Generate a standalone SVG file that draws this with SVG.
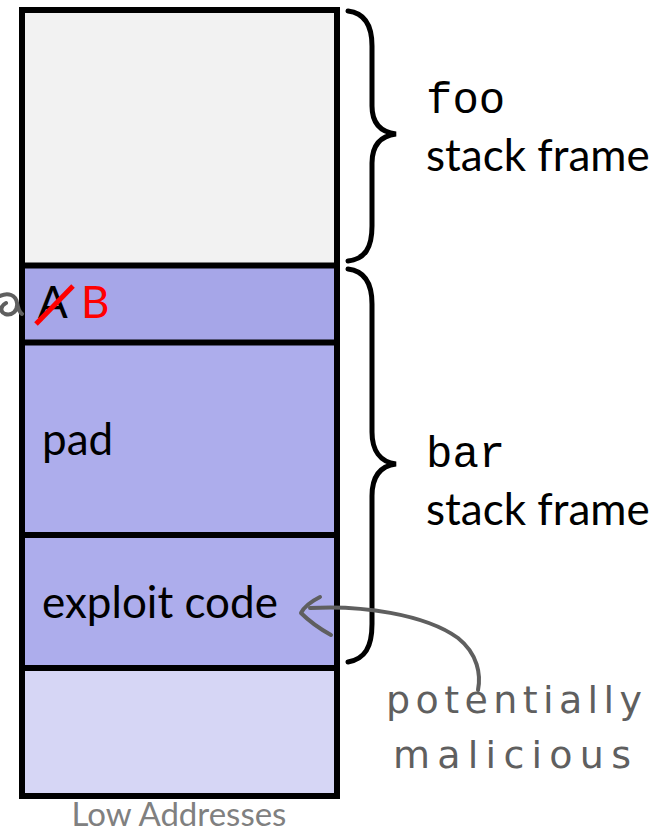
<svg xmlns="http://www.w3.org/2000/svg" width="662" height="833" viewBox="0 0 662 833">
  <style>
    .cell { stroke: none; }
    .rule { stroke: #000; stroke-width: 6; fill: none; }
    .brace { stroke: #000; stroke-width: 5; fill: none; stroke-linecap: round; }
    .lbl { font-family: Lato, "Liberation Sans", sans-serif; font-size: 44px; fill: #000; }
    .mono { font-family: "Liberation Mono", "DejaVu Sans Mono", monospace; font-size: 44px; fill: #000; }
    .ink { stroke: #5f5f5f; stroke-width: 4; fill: none; stroke-linecap: round; stroke-linejoin: round; }
    .hand { font-family: "DejaVu Sans", sans-serif; font-size: 38px; fill: #5f5f5f; }
  </style>

  <!-- stack cells -->
  <g id="foo-frame">
    <rect class="cell" x="22" y="10" width="315" height="255.5" fill="#f2f2f2"/>
  </g>
  <g id="return-addr">
    <rect class="cell" x="22" y="265.5" width="315" height="77" fill="#a6a6e8"/>
    <text class="lbl" x="38" y="318">A</text>
    <line x1="36" y1="324" x2="73" y2="286" stroke="#ff0000" stroke-width="5"/>
    <text class="lbl" x="81" y="318" style="fill:#ff0000">B</text>
  </g>
  <g id="pad">
    <rect class="cell" x="22" y="342.5" width="315" height="192.5" fill="#adadec"/>
    <text class="lbl" x="42" y="455">pad</text>
  </g>
  <g id="exploit">
    <rect class="cell" x="22" y="535" width="315" height="133" fill="#adadec"/>
    <text class="lbl" x="42" y="618">exploit code</text>
  </g>
  <g id="low-area">
    <rect class="cell" x="22" y="668" width="315" height="128" fill="#d6d6f5"/>
  </g>

  <!-- outline and dividers -->
  <g id="outline">
    <rect class="rule" x="22" y="10" width="315" height="786"/>
    <line class="rule" x1="22" y1="265.5" x2="337" y2="265.5"/>
    <line class="rule" x1="22" y1="342.5" x2="337" y2="342.5"/>
    <line class="rule" x1="22" y1="535" x2="337" y2="535"/>
    <line class="rule" x1="22" y1="668" x2="337" y2="668"/>
  </g>

  <!-- frame braces and labels -->
  <g id="foo-label">
    <path class="brace" d="M348,11 C365,13 372,26 372,46 L372,106 C372,123 380,132 396,134 C380,136 372,146 372,163 L372,226 C372,248 365,259 348,261"/>
    <text class="mono" x="426" y="113">foo</text>
    <text class="lbl" x="426" y="171">stack frame</text>
  </g>
  <g id="bar-label">
    <path class="brace" d="M348,269 C365,271 372,284 372,304 L372,432 C372,450 380,462 396,464 C380,466 372,477 372,496 L372,624 C372,647 365,659 348,662"/>
    <text class="mono" x="426" y="467">bar</text>
    <text class="lbl" x="426" y="525">stack frame</text>
  </g>

  <!-- hand-drawn annotation -->
  <g id="connectors">
    <path class="ink" d="M310,608 C360,605 425,614 458,638 C478,654 481,675 478,690"/>
    <path class="ink" d="M320,597 C312,601 304,607 301,613 C310,622 322,630 331,635"/>
    <path class="ink" stroke-width="6" d="M0,296 C8,292 16,295 17,303 C18,311 12,316 5,314 C0,312 0,306 6,303 M17,303 C18,308 19,312 22,314"/>
  </g>
  <g id="note">
    <text class="hand" x="386" y="713" textLength="256" lengthAdjust="spacing">potentially</text>
    <text class="hand" x="393" y="768" textLength="238" lengthAdjust="spacing">malicious</text>
  </g>

  <text x="179" y="826" text-anchor="middle" font-family="Lato, 'Liberation Sans', sans-serif" font-size="33" fill="#808080">Low Addresses</text>
</svg>
